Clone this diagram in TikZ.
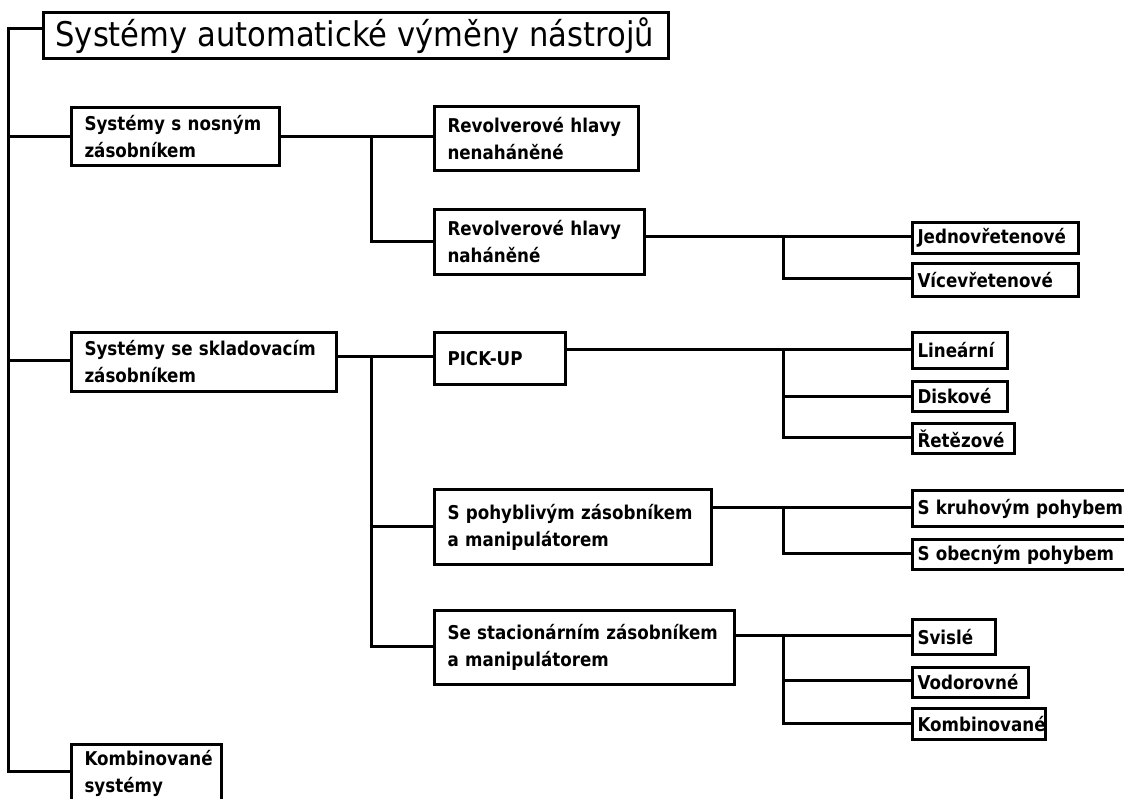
\documentclass[tikz,border=0pt]{standalone}
\usepackage{fontspec}
\setmainfont{DejaVu Sans}[FakeStretch=0.88]
\newfontfamily\titlefont{DejaVu Sans}[FakeStretch=0.9]
\begin{document}
\begin{tikzpicture}[x=1pt,y=-1pt,
  conn/.style={draw=black,line width=3pt,line cap=butt,line join=miter},
  boxbase/.style={draw=black,line width=3pt,rectangle,anchor=north west,align=left,
    inner ysep=0pt,font=\fontsize{19}{27}\selectfont\bfseries},
  midbox/.style={boxbase,inner xsep=13pt},
  leafbox/.style={boxbase,inner xsep=5pt}
]
\useasboundingbox (0,0) rectangle (1124,799);
\fill[white] (0,0) rectangle (1124,799);
\begin{scope}
\clip (0,0) rectangle (1124,799);

% title
\node[draw=black,line width=3pt,rectangle,anchor=north west,inner xsep=11pt,inner ysep=0pt,
  minimum width=625pt,minimum height=46pt,align=left,
  font=\titlefont\fontsize{34}{40}\selectfont] (title) at (42,11)
  {\makebox[601pt][l]{Systémy automatické výměny nástrojů}};

% level 1
\node[midbox,minimum width=208pt,minimum height=58pt,text width=182pt] (b1) at (70,106) {Systémy s nosným\\zásobníkem};
\node[midbox,minimum width=265pt,minimum height=59pt,text width=239pt] (b2) at (70,331) {Systémy se skladovacím\\zásobníkem};
\node[midbox,minimum width=150pt,minimum height=58pt,text width=124pt] (b3) at (70,743) {Kombinované\\systémy};

% level 2
\node[midbox,minimum width=204pt,minimum height=64pt,text width=178pt] (r1) at (433,105) {Revolverové hlavy\\nenaháněné};
\node[midbox,minimum width=210pt,minimum height=65pt,text width=184pt] (r2) at (433,208) {Revolverové hlavy\\naháněné};
\node[midbox,minimum width=131pt,minimum height=52pt,text width=105pt] (r3) at (433,331) {PICK-UP};
\node[midbox,minimum width=277pt,minimum height=75pt,text width=251pt] (r4) at (433,488) {S pohyblivým zásobníkem\\a manipulátorem};
\node[midbox,minimum width=300pt,minimum height=74pt,text width=274pt] (r5) at (433,609) {Se stacionárním zásobníkem\\a manipulátorem};

% level 3
\node[leafbox,minimum width=166pt,minimum height=31pt,text width=156pt] (l1) at (911,221) {Jednovřetenové};
\node[leafbox,minimum width=166pt,minimum height=33pt,text width=156pt] (l2) at (911,262) {Vícevřetenové};
\node[leafbox,minimum width=95pt,minimum height=36pt,text width=85pt] (l3) at (911,331) {Lineární};
\node[leafbox,minimum width=95pt,minimum height=30pt,text width=85pt] (l4) at (911,380) {Diskové};
\node[leafbox,minimum width=102pt,minimum height=30pt,text width=92pt] (l5) at (911,422) {Řetězové};
\node[leafbox,minimum width=230pt,minimum height=36pt,text width=220pt] (l6) at (911,489) {S kruhovým pohybem};
\node[leafbox,minimum width=230pt,minimum height=30pt,text width=220pt] (l7) at (911,538) {S obecným pohybem};
\node[leafbox,minimum width=83pt,minimum height=35pt,text width=73pt] (l8) at (911,618) {Svislé};
\node[leafbox,minimum width=116pt,minimum height=30pt,text width=106pt] (l9) at (911,666) {Vodorovné};
\node[leafbox,minimum width=133pt,minimum height=31pt,text width=123pt] (l10) at (911,707) {Kombinované};

% junction coordinates
\coordinate (t0) at (8,29);
\coordinate (t1) at (8,771);
\coordinate (t2) at (8,361);
\coordinate (j1a) at (371,135);
\coordinate (j1b) at (371,242);
\coordinate (j2a) at (371,357);
\coordinate (j2b) at (371,526);
\coordinate (j2c) at (371,646);
\coordinate (k1a) at (783,237);
\coordinate (k1b) at (783,279);
\coordinate (k2a) at (783,350);
\coordinate (k2b) at (783,396);
\coordinate (k2c) at (783,437);
\coordinate (k3a) at (783,507);
\coordinate (k3b) at (783,553);
\coordinate (k4a) at (783,635);
\coordinate (k4b) at (783,680);
\coordinate (k4c) at (783,723);

% trunk
\draw[conn] (title.west |- t0) -- (t0) -- (t1) -- (b3.west |- t1);
\draw[conn] (t0 |- b1.west) -- (b1.west);
\draw[conn] (t2) -- (b2.west |- t2);

% from b1
\draw[conn] (b1.east) -- (r1.west |- b1.east);
\draw[conn] (j1a) -- (j1b) -- (r2.west |- j1b);

% from b2
\draw[conn] (b2.east |- j2a) -- (r3.west |- j2a);
\draw[conn] (j2a) -- (j2c) -- (r5.west |- j2c);
\draw[conn] (j2b) -- (r4.west |- j2b);

% from r2
\draw[conn] (r2.east |- k1a) -- (l1.west |- k1a);
\draw[conn] (k1a) -- (k1b) -- (l2.west |- k1b);

% from r3
\draw[conn] (r3.east |- k2a) -- (l3.west |- k2a);
\draw[conn] (k2a) -- (k2c) -- (l5.west |- k2c);
\draw[conn] (k2b) -- (l4.west |- k2b);

% from r4
\draw[conn] (r4.east |- k3a) -- (l6.west |- k3a);
\draw[conn] (k3a) -- (k3b) -- (l7.west |- k3b);

% from r5
\draw[conn] (r5.east |- k4a) -- (l8.west |- k4a);
\draw[conn] (k4a) -- (k4c) -- (l10.west |- k4c);
\draw[conn] (k4b) -- (l9.west |- k4b);
\end{scope}
\end{tikzpicture}
\end{document}
